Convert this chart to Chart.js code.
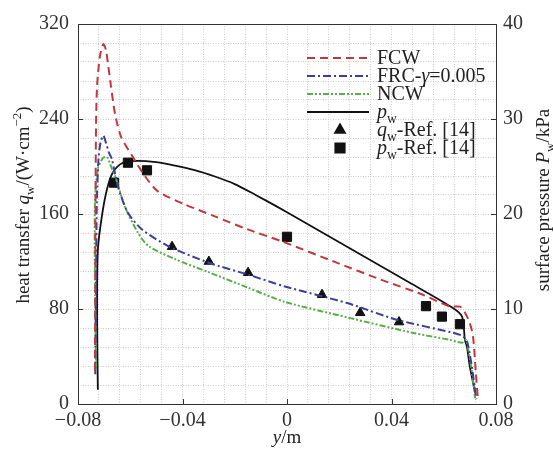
<!DOCTYPE html>
<html>
<head>
<meta charset="utf-8">
<script src="https://cdn.jsdelivr.net/npm/chart.js@4.4.1/dist/chart.umd.min.js"></script>
<style>
  html, body { margin: 0; padding: 0; background: #fff; }
  #wrap { width: 553px; height: 453px; position: relative; }
</style>
</head>
<body>
<div id="wrap"><canvas id="heatChart"></canvas></div>
<script>
// position along surface y/m, heat transfer q_w (W/cm2), pressure P_w (kPa)
const fcwY = [-0.0735, -0.0734, -0.0733, -0.0731, -0.0727, -0.0716, -0.0703, -0.0693, -0.0674, -0.0658, -0.0635, -0.0590, -0.0544, -0.0494, -0.0390, -0.0276, -0.0150, -0.0020, 0.0190, 0.0356, 0.0520, 0.0624, 0.0662, 0.0681, 0.0700, 0.0712, 0.0723, 0.0731];
const fcwQ = [28, 100, 170, 234, 268, 293, 303, 298, 268, 244, 225, 208, 192, 179, 168, 158, 147, 137, 119, 105, 92, 82, 82, 77, 68, 57, 26, 3];

const frcY = [-0.0734, -0.0731, -0.0728, -0.0722, -0.0714, -0.0703, -0.0693, -0.0682, -0.0670, -0.0647, -0.0609, -0.0555, -0.0455, -0.0300, -0.0150, -0.0008, 0.0230, 0.0420, 0.0635, 0.0674, 0.0690, 0.0705, 0.0718, 0.0725];
const frcQ = [25, 100, 170, 205, 220, 226, 220, 212, 206, 183, 161, 147, 133, 119, 109, 99, 85, 71, 60, 57, 52, 35, 15, 4];

const ncwY = [-0.0731, -0.0735, -0.0735, -0.0724, -0.0705, -0.0689, -0.0670, -0.0658, -0.0620, -0.0570, -0.0530, -0.0429, -0.0300, -0.0150, -0.0008, 0.0230, 0.0480, 0.0624, 0.0670, 0.0685, 0.0700, 0.0712, 0.0720];
const ncwQ = [30, 100, 170, 198, 207, 208, 198, 192, 166, 144, 133, 122, 111, 98, 86, 73, 60, 54, 51.5, 54, 38, 20, 5];

const pwY = [-0.0724, -0.0726, -0.0727, -0.0724, -0.0709, -0.0689, -0.0666, -0.0628, -0.0574, -0.0500, -0.0429, -0.0350, -0.0276, -0.0200, -0.0120, -0.0040, 0.0040, 0.0100, 0.0290, 0.0480, 0.0635, 0.0670, 0.0681, 0.0689, 0.0700, 0.0720];
const pwP = [1.5, 5.7, 11, 16.2, 19.7, 22.6, 24.4, 25.4, 25.6, 25.45, 25.1, 24.6, 23.95, 23.15, 22.0, 20.8, 19.55, 18.6, 15.6, 12.6, 10.1, 9.2, 6.75, 6.0, 3.9, 1.2];

const refQY = [-0.0440, -0.0299, -0.0149, 0.0134, 0.0280, 0.0429];
const refQ = [132.5, 120, 110.6, 92, 76.8, 69];

const refPY = [-0.0662, -0.0609, -0.0536, 0.0, 0.0532, 0.0593, 0.0662];
const refP = [23.3, 25.4, 24.6, 17.6, 10.3, 9.2, 8.4];

const xTicksMajor = [-0.04, 0, 0.04];
const qTicksMajor = [80, 160, 240];
const pTicksMajor = [10, 20, 30];

const SERIF = '"Liberation Serif", "Times New Roman", serif';
const toPts = (xs, ys) => xs.map((x, i) => ({ x: x, y: ys[i] }));

// text with italic / subscript / superscript pieces
function richWidth(ctx, parts, size) {
    let w = 0;
    parts.forEach(([t, s]) => {
        const small = s === 'sub' || s === 'sup';
        ctx.font = (s === 'i' ? 'italic ' : '') + (small ? size * 0.68 : size) + 'px ' + SERIF;
        w += ctx.measureText(t).width;
    });
    return w;
}
function drawRich(ctx, x, y, parts, size) {
    let cx = x;
    parts.forEach(([t, s]) => {
        const small = s === 'sub' || s === 'sup';
        ctx.font = (s === 'i' ? 'italic ' : '') + (small ? size * 0.68 : size) + 'px ' + SERIF;
        const dy = s === 'sub' ? size * 0.25 : (s === 'sup' ? -size * 0.42 : 0);
        ctx.fillText(t, cx, y + dy);
        cx += ctx.measureText(t).width;
    });
}

const legendItems = [
    { type: 'line', color: '#c0393f', dash: [8, 5], width: 2, parts: [['FCW', '']] },
    { type: 'line', color: '#3b3f9a', dash: [8, 3, 2, 3], width: 2, parts: [['FRC-', ''], ['\u03B3', 'i'], ['=0.005', '']] },
    { type: 'line', color: '#5aae4a', dash: [6, 2, 2, 2, 2, 2], width: 2, parts: [['NCW', '']] },
    { type: 'line', color: '#111', dash: [], width: 2, parts: [['p', 'i'], ['w', 'sub']] },
    { type: 'triangle', parts: [['q', 'i'], ['w', 'sub'], ['-Ref. [14]', '']] },
    { type: 'rect', parts: [['p', 'i'], ['w', 'sub'], ['-Ref. [14]', '']] }
];

const decorations = {
    id: 'decorations',
    afterDraw(chart) {
        const ctx = chart.ctx;
        const a = chart.chartArea;
        const sx = chart.scales.x, sq = chart.scales.y, sp = chart.scales.y1;
        ctx.save();
        // frame
        ctx.strokeStyle = '#333';
        ctx.lineWidth = 1;
        ctx.setLineDash([]);
        ctx.strokeRect(a.left + 0.5, a.top + 0.5, a.right - a.left, a.bottom - a.top);
        // inward tick marks
        ctx.beginPath();
        xTicksMajor.forEach(v => {
            const px = Math.round(sx.getPixelForValue(v)) + 0.5;
            ctx.moveTo(px, a.bottom); ctx.lineTo(px, a.bottom - 5);
        });
        qTicksMajor.forEach(v => {
            const py = Math.round(sq.getPixelForValue(v)) + 0.5;
            ctx.moveTo(a.left, py); ctx.lineTo(a.left + 5, py);
        });
        pTicksMajor.forEach(v => {
            const py = Math.round(sp.getPixelForValue(v)) + 0.5;
            ctx.moveTo(a.right, py); ctx.lineTo(a.right - 5, py);
        });
        ctx.stroke();

        // axis titles
        ctx.fillStyle = '#222';
        ctx.textBaseline = 'alphabetic';
        ctx.textAlign = 'left';
        const leftTitle = [['heat transfer ', ''], ['q', 'i'], ['w', 'sub'], ['/(W\u00B7cm', ''], ['\u22122', 'sup'], [')', '']];
        ctx.save();
        ctx.translate(29, 205);
        ctx.rotate(-Math.PI / 2);
        drawRich(ctx, -richWidth(ctx, leftTitle, 19) / 2, 0, leftTitle, 19);
        ctx.restore();

        const rightTitle = [['surface pressure ', ''], ['P', 'i'], ['w', 'sub'], ['/kPa', '']];
        ctx.save();
        ctx.translate(549, 200);
        ctx.rotate(-Math.PI / 2);
        drawRich(ctx, -richWidth(ctx, rightTitle, 19) / 2, 0, rightTitle, 19);
        ctx.restore();

        const xTitle = [['y', 'i'], ['/m', '']];
        drawRich(ctx, 287 - richWidth(ctx, xTitle, 19) / 2, 443, xTitle, 19);

        // legend
        legendItems.forEach((it, i) => {
            const ly = 58 + i * 18;
            if (it.type === 'line') {
                ctx.strokeStyle = it.color;
                ctx.lineWidth = it.width;
                ctx.setLineDash(it.dash);
                ctx.beginPath();
                ctx.moveTo(307, ly); ctx.lineTo(369, ly);
                ctx.stroke();
                ctx.setLineDash([]);
            } else {
                ctx.fillStyle = '#111';
                ctx.strokeStyle = '#111';
                Chart.helpers.drawPoint(ctx, { pointStyle: it.type, radius: it.type === 'rect' ? 6.5 : 5.5, borderWidth: 1, rotation: 0 }, 340, ly);
            }
            ctx.fillStyle = '#222';
            drawRich(ctx, 377, ly + 6, it.parts, 20);
        });
        ctx.restore();
    }
};

const gridColor = '#cdcdcd';

new Chart(document.getElementById('heatChart'), {
    type: 'line',
    data: {
        datasets: [
            {
                label: 'FCW', data: toPts(fcwY, fcwQ), yAxisID: 'y',
                borderColor: '#c0393f', borderWidth: 2, borderDash: [8, 5],
                pointRadius: 0, tension: 0.25, fill: false
            },
            {
                label: 'FRC', data: toPts(frcY, frcQ), yAxisID: 'y',
                borderColor: '#3b3f9a', borderWidth: 2, borderDash: [8, 3, 2, 3],
                pointRadius: 0, tension: 0.25, fill: false
            },
            {
                label: 'NCW', data: toPts(ncwY, ncwQ), yAxisID: 'y',
                borderColor: '#5aae4a', borderWidth: 2, borderDash: [6, 2, 2, 2, 2, 2],
                pointRadius: 0, tension: 0.25, fill: false
            },
            {
                label: 'pw', data: toPts(pwY, pwP), yAxisID: 'y1',
                borderColor: '#111', borderWidth: 1.8,
                pointRadius: 0, tension: 0.3, fill: false
            },
            {
                label: 'qw-Ref', data: toPts(refQY, refQ), yAxisID: 'y',
                showLine: false, pointStyle: 'triangle', pointRadius: 5.5,
                pointBackgroundColor: '#111', pointBorderColor: '#111', pointBorderWidth: 1
            },
            {
                label: 'pw-Ref', data: toPts(refPY, refP), yAxisID: 'y1',
                showLine: false, pointStyle: 'rect', pointRadius: 6.5,
                pointBackgroundColor: '#111', pointBorderColor: '#111', pointBorderWidth: 1
            }
        ]
    },
    options: {
        responsive: true,
        maintainAspectRatio: false,
        animation: false,
        layout: { padding: { top: 24, left: 0, right: 0, bottom: 0 } },
        plugins: { legend: { display: false }, tooltip: { enabled: false } },
        scales: {
            x: {
                type: 'linear', min: -0.08, max: 0.08,
                afterFit: s => { s.height = 49; },
                grid: { color: gridColor, drawTicks: false },
                border: { display: false, dash: [1, 1.5] },
                ticks: {
                    stepSize: 0.008, autoSkip: false, maxRotation: 0, padding: 5,
                    color: '#333', font: { family: SERIF, size: 20 },
                    callback: v => {
                        const k = Math.round(v / 0.008);
                        if (k % 5 !== 0) return '';
                        if (k === 0) return '0';
                        return (v < 0 ? '\u2212' : '') + Math.abs(v).toFixed(2);
                    }
                }
            },
            y: {
                type: 'linear', position: 'left', min: 0, max: 320,
                afterFit: s => { s.width = 78; },
                grid: { color: gridColor, drawTicks: false },
                border: { display: false, dash: [1, 1.5] },
                ticks: {
                    stepSize: 16, autoSkip: false, padding: 9,
                    color: '#333', font: { family: SERIF, size: 20 },
                    callback: v => (Math.round(v) % 80 === 0 ? String(Math.round(v)) : '')
                }
            },
            y1: {
                type: 'linear', position: 'right', min: 0, max: 40,
                afterFit: s => { s.width = 57; },
                grid: { display: false, drawTicks: false },
                border: { display: false },
                ticks: {
                    stepSize: 10, padding: 7,
                    color: '#333', font: { family: SERIF, size: 20 }
                }
            }
        }
    },
    plugins: [decorations]
});
</script>
</body>
</html>
